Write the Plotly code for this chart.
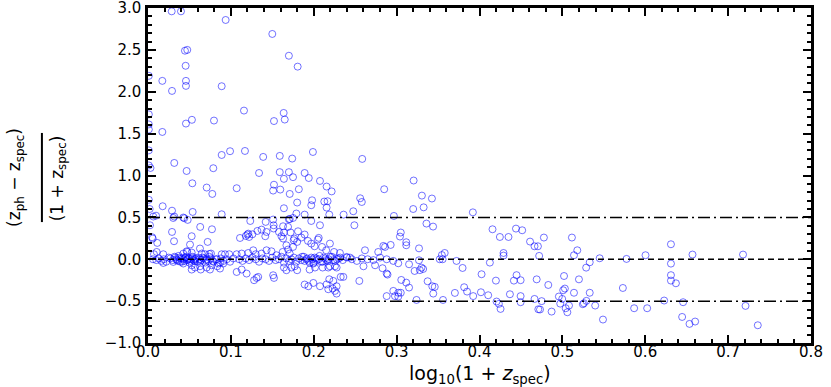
import plotly.graph_objects as go

# photo-z scatter: x = log10(1+z_spec), y = (z_ph - z_spec)/(1+z_spec)

# outliers above ~0.9
x_high = [0.0286, 0.0398, 0.0937, 0.150, 0.0446, 0.0474, 0.170, 0.0454, 0.1806, 0.001,
          0.0173, 0.0458, 0.029, 0.0458, 0.0889, 0.1158, 0.1637, 0.001, 0.053, 0.0458,
          0.0796, 0.152, 0.165, 0.001, 0.001, 0.0173, 0.001, 0.0889, 0.099, 0.117,
          0.139, 0.159, 0.174, 0.199, 0.2585, 0.0317, 0.001, 0.003, 0.0466, 0.0788,
          0.134, 0.159, 0.170, 0.189, 0.164, 0.175, 0.194, 0.2075, 0.3205]
y_high = [2.96, 2.96, 2.857, 2.69, 2.49, 2.50, 2.43, 2.31, 2.30, 2.19,
          2.13, 2.13, 2.01, 2.07, 2.066, 1.775, 1.747, 1.73, 1.665, 1.62,
          1.656, 1.65, 1.668, 1.61, 1.55, 1.52, 1.30, 1.245, 1.29, 1.293,
          1.222, 1.234, 1.202, 1.281, 1.198, 1.15, 1.12, 1.09, 1.054, 1.087,
          1.03, 1.04, 1.04, 1.03, 0.96, 0.98, 0.97, 0.935, 0.94]

# between 0.45 and 0.9
x_mid = [0.0535, 0.0708, 0.0776, 0.107, 0.152, 0.151, 0.1596, 0.171, 0.182, 0.2155,
         0.2216, 0.285, 0.180, 0.198, 0.197, 0.2127, 0.2167, 0.2155, 0.256, 0.258,
         0.164, 0.0177, 0.029, 0.0539, 0.0889, 0.3305, 0.3426, 0.3326, 0.32, 0.392,
         0.2477, 0.236, 0.2187, 0.179, 0.189, 0.2967, 0.001, 0.002, 0.0097, 0.0064,
         0.0317, 0.0305, 0.0438, 0.0479, 0.0426]
y_mid = [0.907, 0.856, 0.78, 0.848, 0.89, 0.82, 0.832, 0.78, 0.836, 0.868,
         0.81, 0.836, 0.677, 0.704, 0.645, 0.689, 0.693, 0.617, 0.728, 0.684,
         0.609, 0.633, 0.58, 0.565, 0.537, 0.76, 0.725, 0.62, 0.60, 0.56,
         0.573, 0.533, 0.533, 0.546, 0.533, 0.517, 0.71, 0.60, 0.52, 0.51,
         0.51, 0.493, 0.49, 0.47, 0.498]

# between 0.15 and 0.5
x_low = [0.0024, 0.029, 0.063, 0.0772, 0.0527, 0.1234, 0.142, 0.151, 0.1516, 0.1516,
         0.158, 0.164, 0.17, 0.175, 0.1415, 0.161, 0.1765, 0.163, 0.111, 0.118,
         0.122, 0.12, 0.005, 0.0057, 0.0112, 0.0314, 0.072, 0.0507, 0.171, 0.197,
         0.2075, 0.249, 0.336, 0.344, 0.181, 0.189, 0.206, 0.305, 0.304, 0.4157,
         0.444, 0.4515, 0.4246, 0.435, 0.461, 0.4777, 0.5115, 0.121, 0.126, 0.132,
         0.137, 0.143, 0.163, 0.169, 0.172, 0.1757, 0.18, 0.185, 0.193, 0.3116,
         0.2928, 0.284, 0.3116]
y_low = [0.406, 0.326, 0.386, 0.358, 0.275, 0.457, 0.446, 0.474, 0.406, 0.367,
         0.326, 0.319, 0.478, 0.493, 0.275, 0.275, 0.247, 0.247, 0.254, 0.278,
         0.266, 0.295, 0.263, 0.247, 0.195, 0.215, 0.207, 0.175, 0.48, 0.457,
         0.406, 0.406, 0.426, 0.39, 0.334, 0.295, 0.255, 0.319, 0.271, 0.358,
         0.366, 0.346, 0.266, 0.266, 0.211, 0.259, 0.259, 0.306, 0.298, 0.338,
         0.354, 0.326, 0.394, 0.386, 0.32, 0.227, 0.207, 0.259, 0.219, 0.203,
         0.171, 0.159, 0.167]

# just above zero
x_near = [0.0474, 0.0426, 0.0627, 0.0648, 0.0688, 0.074, 0.076, 0.0889, 0.0929, 0.0105,
          0.0072, 0.0185, 0.113, 0.121, 0.127, 0.13, 0.137, 0.143, 0.149, 0.155,
          0.1625, 0.169, 0.171, 0.175, 0.167, 0.197, 0.201, 0.205, 0.21, 0.215,
          0.2195, 0.2245, 0.2316, 0.2397, 0.2437, 0.2618, 0.2778, 0.286, 0.4664, 0.4705,
          0.518, 0.514, 0.472, 0.429, 0.429, 0.545, 0.5774, 0.6003, 0.631, 0.657,
          0.718, 0.3546, 0.358, 0.327, 0.0467, 0.0527, 0.107, 0.098]
y_near = [0.087, 0.068, 0.128, 0.068, 0.06, 0.063, 0.068, 0.06, 0.06, 0.087,
          0.06, 0.06, 0.068, 0.075, 0.107, 0.06, 0.068, 0.107, 0.095, 0.048,
          0.087, 0.116, 0.068, 0.147, 0.167, 0.187, 0.155, 0.235, 0.147, 0.107,
          0.187, 0.087, 0.075, 0.028, 0.02, 0.107, 0.087, 0.147, 0.155, 0.155,
          0.107, 0.048, 0.04, 0.075, 0.044, 0.012, 0.004, 0.048, 0.179, 0.056,
          0.056, 0.05, 0.075, 0.13, 0.095, 0.08, 0.06, 0.06]

# dense band around zero
x_band = [0.006, 0.010, 0.013, 0.016, 0.019, 0.022, 0.025, 0.027, 0.030, 0.032,
          0.034, 0.036, 0.038, 0.040, 0.041, 0.043, 0.045, 0.047, 0.049, 0.050,
          0.052, 0.054, 0.056, 0.058, 0.060, 0.062, 0.064, 0.066, 0.069, 0.071,
          0.073, 0.076, 0.079, 0.082, 0.085, 0.088, 0.091, 0.095, 0.099, 0.103,
          0.110, 0.114, 0.118, 0.122, 0.126, 0.130, 0.134, 0.138, 0.142, 0.146,
          0.150, 0.154, 0.158, 0.161, 0.164, 0.167, 0.170, 0.173, 0.176, 0.179,
          0.182, 0.185, 0.188, 0.191, 0.194, 0.197, 0.200, 0.203, 0.206, 0.209,
          0.212, 0.215, 0.218, 0.222, 0.226, 0.230, 0.235, 0.240, 0.246, 0.252,
          0.258, 0.265, 0.272, 0.280, 0.288, 0.296,
          0.033, 0.035, 0.037, 0.039, 0.042, 0.044, 0.046, 0.048, 0.051, 0.053,
          0.055, 0.057, 0.061, 0.063, 0.067, 0.070, 0.074, 0.078, 0.083, 0.087,
          0.186, 0.189, 0.192, 0.195, 0.198, 0.201, 0.204, 0.207, 0.211, 0.214,
          0.217, 0.220, 0.224, 0.228, 0.232]
y_band = [0.00, -0.01, 0.01, -0.02, 0.00, -0.03, 0.02, 0.01, -0.01, 0.03,
          0.00, -0.02, 0.02, 0.01, -0.03, 0.00, 0.02, -0.01, 0.01, -0.04,
          0.00, 0.03, -0.02, 0.01, -0.03, 0.00, -0.01, 0.02, -0.04, 0.00,
          -0.02, 0.01, -0.03, 0.00, -0.05, 0.01, -0.02, 0.00, -0.03, 0.01,
          0.00, -0.02, 0.01, -0.01, 0.02, 0.00, -0.03, 0.01, 0.00, -0.02,
          0.02, -0.01, 0.00, 0.03, -0.04, 0.01, -0.02, 0.00, 0.02, -0.03,
          0.01, -0.01, 0.03, 0.00, -0.02, 0.02, -0.04, 0.01, 0.00, -0.03,
          0.02, -0.01, 0.00, 0.03, -0.02, 0.01, -0.01, 0.02, 0.00, -0.02,
          0.01, 0.00, -0.01, 0.02, 0.00, -0.02,
          0.02, -0.01, 0.04, -0.03, 0.01, -0.02, 0.03, 0.00, -0.02, 0.02,
          -0.01, 0.00, 0.02, -0.03, 0.01, -0.01, 0.03, -0.02, 0.00, -0.04,
          0.03, -0.02, 0.01, -0.04, 0.00, 0.02, -0.01, 0.04, -0.03, 0.01,
          -0.02, 0.03, -0.01, 0.00, 0.02]

# below zero, low redshift
x_neg = [0.0185, 0.0305, 0.0426, 0.0527, 0.0567, 0.0627, 0.0708, 0.0768, 0.0836, 0.0908,
         0.0527, 0.0636, 0.0748, 0.0869, 0.107, 0.113, 0.119, 0.131, 0.133, 0.151,
         0.152, 0.164, 0.167, 0.173, 0.177, 0.18, 0.195, 0.1995, 0.2015, 0.2107,
         0.2175, 0.2195, 0.2256, 0.2276, 0.2325, 0.2357, 0.2236, 0.2187, 0.2276, 0.1995,
         0.189, 0.1935, 0.255, 0.26, 0.274, 0.288, 0.128, 0.2075, 0.2155, 0.2175,
         0.2228, 0.2276, 0.2256]
y_neg = [-0.044, -0.032, -0.051, -0.072, -0.099, -0.084, -0.099, -0.072, -0.084, -0.051,
         -0.123, -0.123, -0.123, -0.111, -0.152, -0.123, -0.171, -0.223, -0.211, -0.191,
         -0.223, -0.099, -0.131, -0.099, -0.084, -0.131, -0.123, -0.051, -0.099, -0.099,
         -0.099, -0.084, -0.084, -0.099, -0.211, -0.211, -0.259, -0.239, -0.322, -0.283,
         -0.302, -0.322, -0.259, -0.084, -0.072, -0.171, -0.25, -0.322, -0.30, -0.358,
         -0.35, -0.41, -0.378]

# higher redshift, mostly below zero
x_far = [0.302, 0.283, 0.289, 0.3056, 0.3116, 0.315, 0.296, 0.302, 0.305, 0.288,
         0.298, 0.302, 0.324, 0.315, 0.33, 0.332, 0.328, 0.3217, 0.327, 0.352,
         0.3555, 0.3374, 0.3442, 0.343, 0.346, 0.356, 0.3703, 0.3723, 0.3796, 0.3815,
         0.385, 0.3924, 0.4017, 0.4105, 0.4125, 0.4025, 0.4198, 0.4206, 0.4234, 0.4254,
         0.4367, 0.4447, 0.4415, 0.4496, 0.4496, 0.4496, 0.469, 0.4664, 0.475, 0.471,
         0.473, 0.487, 0.483, 0.502, 0.503, 0.501, 0.514, 0.533, 0.52, 0.5287,
         0.533, 0.573, 0.4958, 0.4998, 0.4974, 0.508, 0.504, 0.506, 0.5247, 0.526,
         0.529, 0.5396, 0.549, 0.5866, 0.6023, 0.6228, 0.6457, 0.6445, 0.6534, 0.6602,
         0.721, 0.7358, 0.631, 0.631, 0.631, 0.637]
y_far = [-0.048, -0.107, -0.183, -0.247, -0.279, -0.338, -0.378, -0.40, -0.40, -0.44,
         -0.44, -0.446, -0.486, -0.06, -0.10, -0.116, -0.13, -0.14, -0.012, 0.0,
         0.0, -0.263, -0.41, -0.322, -0.33, -0.486, -0.402, -0.02, -0.104, -0.334,
         -0.386, -0.44, -0.394, -0.43, -0.04, -0.179, -0.255, -0.505, -0.533, -0.593,
         -0.418, -0.19, -0.255, -0.25, -0.44, -0.513, -0.24, -0.474, -0.50, -0.597,
         -0.600, -0.625, -0.307, -0.2, -0.35, -0.37, -0.40, -0.40, -0.24, -0.1,
         -0.036, -0.343, -0.445, -0.474, -0.53, -0.553, -0.585, -0.633, -0.537, -0.525,
         -0.497, -0.553, -0.72, -0.585, -0.585, -0.493, -0.513, -0.689, -0.772, -0.744,
         -0.557, -0.788, -0.052, -0.19, -0.255, -0.287]

zero_line = 0.0
outlier_cuts = [0.5, -0.5]

xs = x_high + x_mid + x_low + x_near + x_band + x_neg + x_far
ys = y_high + y_mid + y_low + y_near + y_band + y_neg + y_far

fig = go.Figure()
fig.add_trace(go.Scatter(
    x=xs, y=ys, mode="markers",
    marker=dict(symbol="circle-open", size=7, color="rgba(0,0,255,0.55)",
                line=dict(width=1)),
    showlegend=False,
))

fig.add_hline(y=zero_line, line=dict(color="black", width=1.5, dash="6px,4px"))
for yc in outlier_cuts:
    fig.add_hline(y=yc, line=dict(color="black", width=1.5, dash="12px,4px,2px,4px"))

axis_common = dict(
    showline=True, linecolor="black", linewidth=2.5, mirror="ticks",
    ticks="inside", ticklen=8, tickwidth=1.5, tickcolor="black",
    showgrid=False, zeroline=False, tickformat=".1f", automargin=False,
    ticklabeloverflow="allow",
    tickfont=dict(family="DejaVu Sans", size=15, color="black"),
)

fig.update_layout(
    width=831, height=387,
    margin=dict(l=148, r=20, t=8, b=44),
    plot_bgcolor="white", paper_bgcolor="white",
    font=dict(family="DejaVu Sans", color="black"),
    xaxis=dict(range=[0, 0.8], dtick=0.1, ticklabelstandoff=-7,
               minor=dict(dtick=0.02, ticks="inside", ticklen=4, tickcolor="black"),
               **axis_common),
    yaxis=dict(range=[-1, 3], dtick=0.5, ticklabelstandoff=1,
               minor=dict(dtick=0.1, ticks="inside", ticklen=4, tickcolor="black"),
               **axis_common),
)

# x title as annotation so it sits tight under the tick labels
fig.add_annotation(text="log<sub>10</sub>(1 + <i>z</i><sub>spec</sub>)",
                   xref="paper", yref="paper", x=0.5, y=-0.094,
                   showarrow=False, font=dict(family="DejaVu Sans", size=19),
                   xanchor="center", yanchor="middle")

# y label drawn as a rotated fraction
fig.add_annotation(text="(z<sub>ph</sub> − z<sub>spec</sub>)",
                   xref="paper", yref="paper", x=-0.199, y=0.493, textangle=-90,
                   showarrow=False, font=dict(family="DejaVu Sans", size=17),
                   xanchor="center", yanchor="middle")
fig.add_annotation(text="(1 + z<sub>spec</sub>)",
                   xref="paper", yref="paper", x=-0.135, y=0.493, textangle=-90,
                   showarrow=False, font=dict(family="DejaVu Sans", size=17),
                   xanchor="center", yanchor="middle")
fig.add_shape(type="line", xref="paper", yref="paper",
              x0=-0.160, x1=-0.160, y0=0.361, y1=0.627,
              line=dict(color="black", width=2))

# the page's default 8px body margin would shift the whole figure
fig.write_html("out.html", config={"displayModeBar": False},
               post_script="document.body.style.margin='0';")
